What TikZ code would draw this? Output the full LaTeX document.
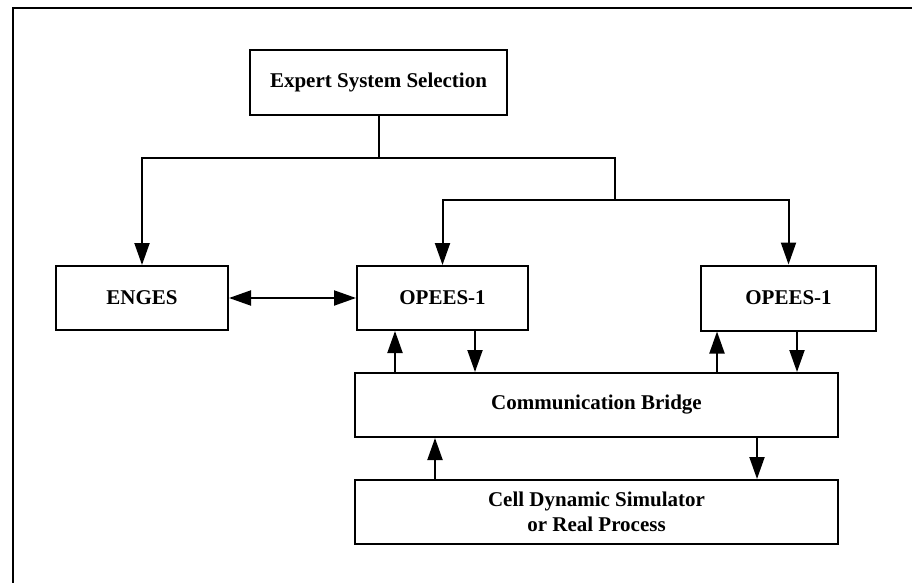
\documentclass[tikz,border=0pt]{standalone}
\usepackage{fontspec}
\setmainfont{Liberation Serif}
\usetikzlibrary{arrows.meta}
\begin{document}
\begin{tikzpicture}[x=1pt,y=-1pt,
  box/.style={draw,line width=2pt,minimum width=#1,inner sep=0pt,
    font=\fontsize{21}{25}\selectfont\bfseries,align=center},
  link/.style={line width=2pt},
  tip/.style={Triangle[length=22pt,width=15pt]},
  arr/.style={link,-{Triangle[length=22pt,width=15pt]}},
  darr/.style={link,{Triangle[length=22pt,width=15pt]}-{Triangle[length=22pt,width=15pt]}}]
\useasboundingbox (0,0) rectangle (912,583);
% outer frame (top and left edges)
\draw[line width=2pt] (13,583) -- (13,8) -- (912,8);

% boxes
\node[box=257pt,minimum height=65pt] (ess) at (378.5,82.5) {Expert System Selection};
\node[box=172pt,minimum height=64pt] (enges) at (142,298) {ENGES};
\node[box=171pt,minimum height=64pt] (op1) at (442.5,298) {OPEES-1};
\node[box=175pt,minimum height=65pt] (op2) at (788.5,298) {OPEES-1};
\node[box=483pt,minimum height=64pt] (bridge) at (596.5,405) {Communication Bridge};
\node[box=483pt,minimum height=64pt] (cell) at (596.5,512) {Cell Dynamic Simulator\\or Real Process};

% selection tree
\coordinate (j1) at (378.5,158);
\coordinate (j2) at (615,158);
\coordinate (j3) at (615,200);
\draw[arr] (ess.south) -- (j1) -| (enges.north);
\draw[link] (j1) -- (j2) -- (j3);
\draw[arr] (j3) -| (op1.north);
\draw[arr] (j3) -| (op2.north);

% ENGES <-> OPEES-1
\draw[darr] (enges.east) -- (op1.west);

% OPEES-1 boxes <-> bridge
\draw[arr] (bridge.north -| 395,0) -- (op1.south -| 395,0);
\draw[arr] (op1.south -| 475,0) -- (bridge.north -| 475,0);
\draw[arr] (bridge.north -| 717,0) -- (op2.south -| 717,0);
\draw[arr] (op2.south -| 797,0) -- (bridge.north -| 797,0);

% bridge <-> process
\draw[arr] (cell.north -| 435,0) -- (bridge.south -| 435,0);
\draw[arr] (bridge.south -| 757,0) -- (cell.north -| 757,0);
\end{tikzpicture}
\end{document}
